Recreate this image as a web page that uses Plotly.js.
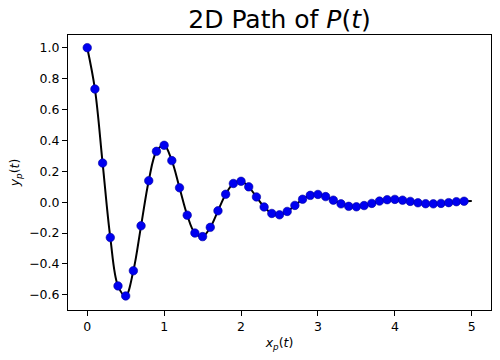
<!DOCTYPE html>
<html>
<head>
<meta charset="utf-8">
<script src="https://cdn.plot.ly/plotly-3.0.1.min.js"></script>
<style>html,body{margin:0;padding:0;background:#fff;}#chart{width:500px;height:360px;}</style>
</head>
<body>
<div id="chart"></div>
<script>
const xPoints = [0.0,0.1,0.2,0.3,0.4,0.5,0.6,0.7,0.8,0.9,1.0,1.1,1.2,1.3,1.4,1.5,1.6,1.7,1.8,1.9,2.0,2.1,2.2,2.3,2.4,2.5,2.6,2.7,2.8,2.9,3.0,3.1,3.2,3.3,3.4,3.5,3.6,3.7,3.8,3.9,4.0,4.1,4.2,4.3,4.4,4.5,4.6,4.7,4.8,4.9];
const yPoints = [1.000,0.732,0.253,-0.229,-0.542,-0.607,-0.444,-0.153,0.139,0.329,0.368,0.269,0.093,-0.084,-0.200,-0.223,-0.163,-0.056,0.051,0.121,0.135,0.099,0.034,-0.031,-0.073,-0.082,-0.060,-0.021,0.019,0.044,0.050,0.036,0.013,-0.011,-0.027,-0.030,-0.022,-0.008,0.007,0.016,0.018,0.013,0.005,-0.004,-0.010,-0.011,-0.008,-0.003,0.003,0.006];
// Continuous path (reaches x = 5)
const xLine = xPoints.concat([5.0]);
const yLine = yPoints.concat([0.007]);
const xTicks = [0,1,2,3,4,5];
const yTicks = [-0.6,-0.4,-0.2,0.0,0.2,0.4,0.6,0.8,1.0];

const font = {family: 'DejaVu Sans, sans-serif', size: 12.5, color: '#000'};
const axisBase = {
  showgrid: false, zeroline: false,
  showline: true, linecolor: '#000', linewidth: 1, mirror: true,
  ticks: 'outside', ticklen: 5, tickwidth: 1, tickcolor: '#000',
  tickfont: font
};

const traces = [
  {x: xLine, y: yLine, mode: 'lines', type: 'scatter',
   line: {color: '#000', width: 2, shape: 'spline', smoothing: 1},
   hoverinfo: 'skip', showlegend: false},
  {x: xPoints, y: yPoints, mode: 'markers', type: 'scatter',
   marker: {color: '#0000f0', size: 8.5, line: {color: '#0000a0', width: 0.6}},
   showlegend: false}
];

const layout = {
  width: 500, height: 360,
  margin: {l: 68, r: 9, t: 35, b: 50, pad: 0},
  paper_bgcolor: '#fff', plot_bgcolor: '#fff',
  font: font,
  title: {text: '2D Path of <i>P</i>(<i>t</i>)', font: {family: 'DejaVu Sans, sans-serif', size: 25, color: '#000'},
          x: 0.559, xanchor: 'center', y: 0.923, yanchor: 'bottom'},
  xaxis: Object.assign({}, axisBase, {
    range: [-0.25, 5.25], tickvals: xTicks, ticktext: xTicks.map(String),
    title: {text: '<i>x</i><sub><i>p</i></sub>(<i>t</i>)', font: font, standoff: 5}
  }),
  yaxis: Object.assign({}, axisBase, {
    range: [-0.698, 1.082], tickvals: yTicks, ticktext: yTicks.map(v => v.toFixed(1).replace('-', '\u2212')),
    title: {text: '<i>y</i><sub><i>p</i></sub>(<i>t</i>)', font: font, standoff: 6}
  })
};

Plotly.newPlot('chart', traces, layout, {displayModeBar: false, staticPlot: true});
</script>
</body>
</html>
